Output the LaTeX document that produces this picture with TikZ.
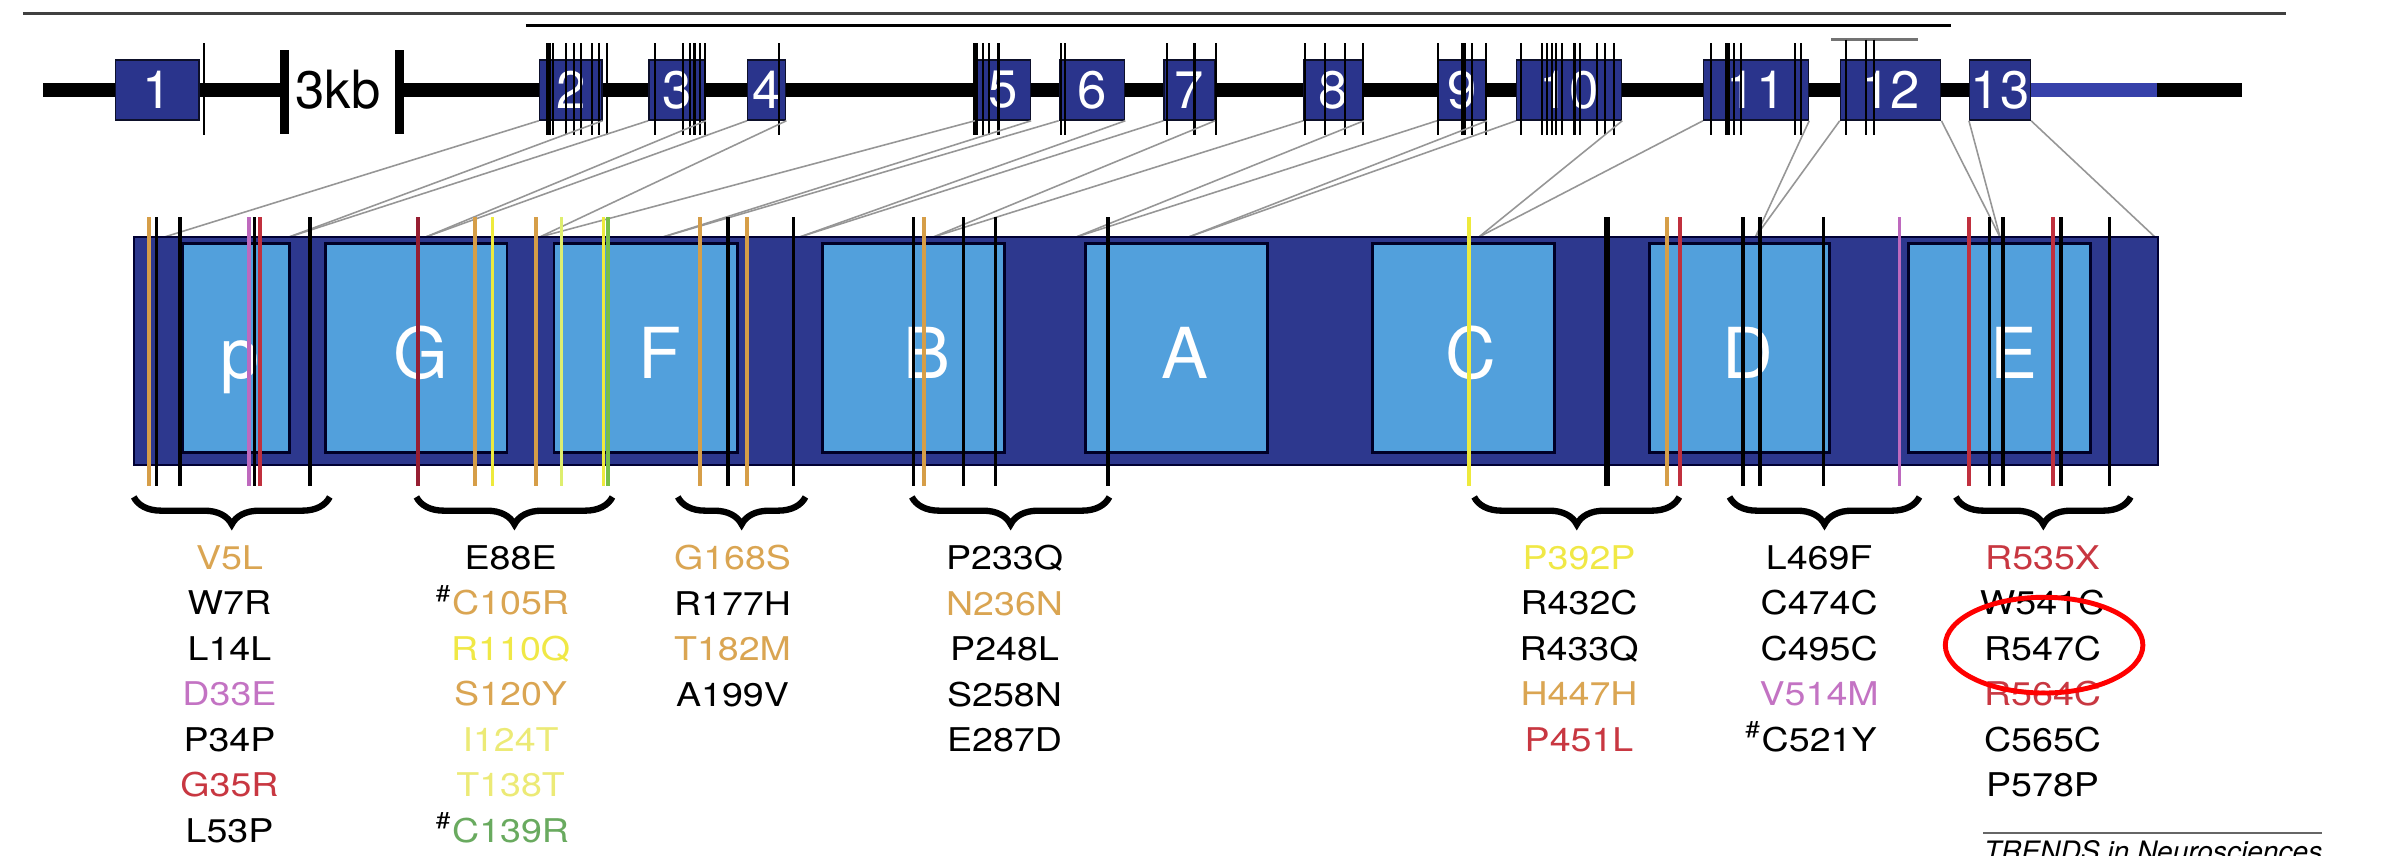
\documentclass[tikz,border=0pt]{standalone}
\usepackage{fontspec}
\setmainfont{TeX Gyre Heros}
\newfontfamily\lblfont[FakeStretch=1.15]{TeX Gyre Heros}
\usepackage{xcolor}
\usepackage{tikz}
\usetikzlibrary{decorations.pathreplacing}
\newcommand{\pxu}{0.152mm}
\definecolor{exonblue}{RGB}{42,52,140}
\definecolor{protnavy}{RGB}{45,56,142}
\definecolor{domblue}{RGB}{82,160,220}
\definecolor{utrblue}{RGB}{55,65,170}
\definecolor{mapgray}{RGB}{150,150,150}
\definecolor{mutorange}{RGB}{214,158,72}
\definecolor{mutyellow}{RGB}{238,234,60}
\definecolor{mutpale}{RGB}{222,238,110}
\definecolor{mutpurple}{RGB}{190,105,190}
\definecolor{mutred}{RGB}{192,48,62}
\definecolor{mutmaroon}{RGB}{150,30,50}
\definecolor{mutgreen}{RGB}{120,190,70}
\definecolor{txtorange}{RGB}{218,165,82}
\definecolor{txtyellow}{RGB}{240,232,70}
\definecolor{txtpale}{RGB}{236,234,118}
\definecolor{txtpurple}{RGB}{195,115,195}
\definecolor{txtred}{RGB}{200,55,65}
\definecolor{txtgreen}{RGB}{105,170,95}
\tikzset{
  exon/.style={draw=black!70!exonblue, line width=0.4pt, fill=exonblue, text=white, inner sep=0pt, minimum height=39.5*\pxu, font=\fontsize{15}{15}\selectfont},
  protein/.style={draw=black!80!blue, line width=0.6pt, fill=protnavy, inner sep=0pt},
  protdomain/.style={draw=black!85!blue, line width=0.8pt, fill=domblue, inner sep=0pt, minimum height=138*\pxu},
  domlabel/.style={text=white, inner sep=0pt, anchor=base, font=\fontsize{20}{20}\selectfont},
  kblabel/.style={inner sep=0pt, font=\fontsize{15}{15}\selectfont},
  backbone/.style={line width=9*\pxu},
  kbbar/.style={line width=6*\pxu},
  tick/.style={line width=0.6pt},
  thicktick/.style={line width=1.4pt},
  mapline/.style={draw=mapgray, line width=0.45pt},
  mut/.style={line width=1pt},
  bracegrp/.style={decorate, decoration={brace, mirror, amplitude=7.8pt}, line width=1.8pt},
  mutlist/.style={align=center, inner sep=0pt, anchor=north, font=\lblfont\fontsize{9.3}{12.93}\selectfont}
}

\begin{document}
\begin{tikzpicture}[x=0.152mm, y=-0.152mm]
  \useasboundingbox (0,0) rectangle (1568,563);
  \clip (0,0) rectangle (1568,563);

  % rules over the gene
  \draw[line width=0.9pt, black!75] (15,9) -- (1504,9);
  \draw[line width=0.9pt] (346,17) -- (1284,17);
  \draw[line width=0.9pt, black!55] (1205,26) -- (1262,26);

  % gene backbone
  \draw[backbone] (28.5,59.3) -- (187,59.3);
  \draw[backbone] (263,59.3) -- (1336,59.3);
  \draw[backbone, utrblue] (1336,59.3) -- (1419,59.3);
  \draw[backbone] (1419,59.3) -- (1475,59.3);
  \draw[kbbar] (187,33) -- (187,88);
  \draw[kbbar] (263,33) -- (263,88);
  \node[kblabel] (kb) at (222.5,59) {3kb};

  \node[exon, minimum width=55*\pxu] (ex1) at (103.5,59.25) {1};
  \node[exon, minimum width=41*\pxu] (ex2) at (375.5,59.25) {2};
  \node[exon, minimum width=37*\pxu] (ex3) at (445.5,59.25) {3};
  \node[exon, minimum width=25*\pxu] (ex4) at (504.5,59.25) {4};
  \node[exon, minimum width=36*\pxu] (ex5) at (660,59.25) {5};
  \node[exon, minimum width=43*\pxu] (ex6) at (718.5,59.25) {6};
  \node[exon, minimum width=33*\pxu] (ex7) at (782.5,59.25) {7};
  \node[exon, minimum width=39*\pxu] (ex8) at (877.5,59.25) {8};
  \node[exon, minimum width=32*\pxu] (ex9) at (962,59.25) {9};
  \node[exon, minimum width=69*\pxu] (ex10) at (1032.5,59.25) {10};
  \node[exon, minimum width=69*\pxu] (ex11) at (1155.5,59.25) {11};
  \node[exon, minimum width=66*\pxu] (ex12) at (1244,59.25) {12};
  \node[exon, minimum width=40*\pxu] (ex13) at (1316,59.25) {13};

  % mutation ticks on the exons
  \draw[tick] (134,28.5) -- (134,89)
    (364,28.5) -- (364,89) (372.5,28.5) -- (372.5,89) (377.5,28.5) -- (377.5,89)
    (382.5,28.5) -- (382.5,89) (389.5,28.5) -- (389.5,89) (394,28.5) -- (394,89) (399.4,28.5) -- (399.4,89)
    (431,28.5) -- (431,89) (449.5,28.5) -- (449.5,89) (454,28.5) -- (454,89) (457,28.5) -- (457,89)
    (460.5,28.5) -- (460.5,89) (464,28.5) -- (464,89) (512.7,28.5) -- (512.7,89)
    (647,28.5) -- (647,89) (650.5,28.5) -- (650.5,89) (657,28.5) -- (657,89)
    (698,28.5) -- (698,89) (701,28.5) -- (701,89)
    (768,28.5) -- (768,89) (786,28.5) -- (786,89) (800,28.5) -- (800,89)
    (858.6,28.5) -- (858.6,89) (872,28.5) -- (872,89) (885,28.5) -- (885,89) (897,28.5) -- (897,89)
    (946,28.5) -- (946,89) (968.5,28.5) -- (968.5,89) (977.6,28.5) -- (977.6,89)
    (1001,28.5) -- (1001,89) (1014.5,28.5) -- (1014.5,89) (1018,28.5) -- (1018,89) (1021,28.5) -- (1021,89)
    (1024,28.5) -- (1024,89) (1028,28.5) -- (1028,89) (1036,28.5) -- (1036,89) (1039.5,28.5) -- (1039.5,89)
    (1051,28.5) -- (1051,89) (1056,28.5) -- (1056,89) (1062,28.5) -- (1062,89)
    (1126,28.5) -- (1126,89) (1141,28.5) -- (1141,89) (1145.4,28.5) -- (1145.4,89)
    (1181,28.5) -- (1181,89) (1185,28.5) -- (1185,89)
    (1214.5,26) -- (1214.5,89) (1227.6,26) -- (1227.6,89) (1233,26) -- (1233,89);
  \draw[thicktick] (360.7,28.5) -- (360.7,89) (642,28.5) -- (642,89)
    (963,28.5) -- (963,89) (1136.5,28.5) -- (1136.5,89);

  % exon boundaries on the protein
  \coordinate (m1) at (108,156);
  \coordinate (m2) at (190,156);
  \coordinate (m3) at (280,156);
  \coordinate (m4) at (355,156);
  \coordinate (m5) at (436,156);
  \coordinate (m6) at (526,156);
  \coordinate (m7) at (614,156);
  \coordinate (m8) at (708,156);
  \coordinate (m9) at (782,156);
  \coordinate (m10) at (973,156);
  \coordinate (m11) at (1155,156);
  \coordinate (m12) at (1316,156);
  \coordinate (m13) at (1418,156);

  \draw[mapline] (ex2.south west) -- (m1);
  \draw[mapline] (ex2.south east) -- (m2);
  \draw[mapline] (ex3.south west) -- (m2);
  \draw[mapline] (ex3.south east) -- (m3);
  \draw[mapline] (ex4.south west) -- (m3);
  \draw[mapline] (ex4.south east) -- (m4);
  \draw[mapline] (ex5.south west) -- (m4);
  \draw[mapline] (ex5.south east) -- (m5);
  \draw[mapline] (ex6.south west) -- (m5);
  \draw[mapline] (ex6.south east) -- (m6);
  \draw[mapline] (ex7.south west) -- (m6);
  \draw[mapline] (ex7.south east) -- (m7);
  \draw[mapline] (ex8.south west) -- (m7);
  \draw[mapline] (ex8.south east) -- (m8);
  \draw[mapline] (ex9.south west) -- (m8);
  \draw[mapline] (ex9.south east) -- (m9);
  \draw[mapline] (ex10.south west) -- (m9);
  \draw[mapline] (ex10.south east) -- (m10);
  \draw[mapline] (ex11.south west) -- (m10);
  \draw[mapline] (ex11.south east) -- (m11);
  \draw[mapline] (ex12.south west) -- (m11);
  \draw[mapline] (ex12.south east) -- (m12);
  \draw[mapline] (ex13.south west) -- (m12);
  \draw[mapline] (ex13.south east) -- (m13);

  % protein and domains
  \node[protein, minimum width=1332*\pxu, minimum height=150*\pxu] (prot) at (754,231) {};
  \node[protdomain, minimum width=70.5*\pxu] (domP) at (155.25,229) {};
  \node[protdomain, minimum width=119.6*\pxu] (domG) at (273.8,229) {};
  \node[protdomain, minimum width=120.5*\pxu] (domF) at (424.75,229) {};
  \node[protdomain, minimum width=120*\pxu] (domB) at (601,229) {};
  \node[protdomain, minimum width=120*\pxu] (domA) at (774,229) {};
  \node[protdomain, minimum width=120*\pxu] (domC) at (963,229) {};
  \node[protdomain, minimum width=118.5*\pxu] (domD) at (1144.75,229) {};
  \node[protdomain, minimum width=119.6*\pxu] (domE) at (1315.8,229) {};
  \node[domlabel] (labP) at (158,249) {p};
  \node[domlabel] (labG) at (277,249) {G};
  \node[domlabel] (labF) at (434,249) {F};
  \node[domlabel] (labB) at (610,249) {B};
  \node[domlabel] (labA) at (779.5,249) {A};
  \node[domlabel] (labC) at (968,249) {C};
  \node[domlabel] (labD) at (1150,249) {D};
  \node[domlabel] (labE) at (1325,249) {E};

  % mutations on the protein
  \draw[mut] (103,143) -- (103,320) (118.5,143) -- (118.5,320) (167.5,143) -- (167.5,320)
    (204,143) -- (204,320) (479,143) -- (479,320) (522,143) -- (522,320) (601,143) -- (601,320)
    (634,143) -- (634,320) (655,143) -- (655,320) (729,143) -- (729,320)
    (1147,143) -- (1147,320) (1158,143) -- (1158,320) (1200,143) -- (1200,320)
    (1309,143) -- (1309,320) (1318,143) -- (1318,320) (1356,143) -- (1356,320) (1388,143) -- (1388,320);
  \draw[mut, line width=1.6pt] (1057.5,143) -- (1057.5,320);
  \draw[mut, mutorange] (98,143) -- (98,320) (312.6,143) -- (312.6,320) (352.7,143) -- (352.7,320)
    (460.6,143) -- (460.6,320) (491.5,143) -- (491.5,320) (608,143) -- (608,320) (1097,143) -- (1097,320);
  \draw[mut, mutyellow] (324,143) -- (324,320) (397,143) -- (397,320) (966.5,143) -- (966.5,320);
  \draw[mut, mutpale] (369.6,143) -- (369.6,320);
  \draw[mut, mutgreen] (400,143) -- (400,320);
  \draw[mut, mutpurple] (164,143) -- (164,320) (1250,143) -- (1250,320);
  \draw[mut, mutred] (171,143) -- (171,320) (1105.5,143) -- (1105.5,320) (1295.5,143) -- (1295.5,320)
    (1351,143) -- (1351,320);
  \draw[mut, mutmaroon] (275,143) -- (275,320);

  % braces
  \draw[bracegrp] (88,327) -- (217,327);
  \draw[bracegrp] (274,327) -- (403,327);
  \draw[bracegrp] (446,327) -- (530,327);
  \draw[bracegrp] (600,327) -- (730,327);
  \draw[bracegrp] (970,327) -- (1105,327);
  \draw[bracegrp] (1138,327) -- (1263,327);
  \draw[bracegrp] (1287,327) -- (1402,327);

  \node[mutlist] (grpP) at (151,358.5) {\textcolor{txtorange}{V5L}\\W7R\\L14L\\\textcolor{txtpurple}{D33E}\\P34P\\\textcolor{txtred}{G35R}\\L53P};
  \node[mutlist] (grpGF) at (336,358.5) {E88E\\\llap{\textsuperscript{\#}}\textcolor{txtorange}{C105R}\\\textcolor{txtyellow}{R110Q}\\\textcolor{txtorange}{S120Y}\\\textcolor{txtpale}{I124T}\\\textcolor{txtpale}{T138T}\\\llap{\textsuperscript{\#}}\textcolor{txtgreen}{C139R}};
  \node[mutlist] (grpF) at (482,358.5) {\textcolor{txtorange}{G168S}\\R177H\\\textcolor{txtorange}{T182M}\\A199V};
  \node[mutlist] (grpB) at (661,358.5) {P233Q\\\textcolor{txtorange}{N236N}\\P248L\\S258N\\E287D};
  \node[mutlist] (grpC) at (1039,358.5) {\textcolor{txtyellow}{P392P}\\R432C\\R433Q\\\textcolor{txtorange}{H447H}\\\textcolor{txtred}{P451L}};
  \node[mutlist] (grpD) at (1197,358.5) {L469F\\C474C\\C495C\\\textcolor{txtpurple}{V514M}\\\llap{\textsuperscript{\#}}C521Y};
  \node[mutlist] (grpE) at (1344,358.5) {\textcolor{txtred}{R535X}\\W541C\\R547C\\\textcolor{txtred}{R564C}\\C565C\\P578P};

  \draw[red, line width=1.4pt] (1345,424.5) ellipse [x radius=65*\pxu, y radius=31.5*\pxu];

  % journal footer
  \draw[line width=0.7pt, black!60] (1305,548) -- (1528,548);
  \node[anchor=base west, inner sep=0pt, font=\itshape\fontsize{8}{8}\selectfont] (journal) at (1305,567) {TRENDS in Neurosciences};
\end{tikzpicture}
\end{document}
